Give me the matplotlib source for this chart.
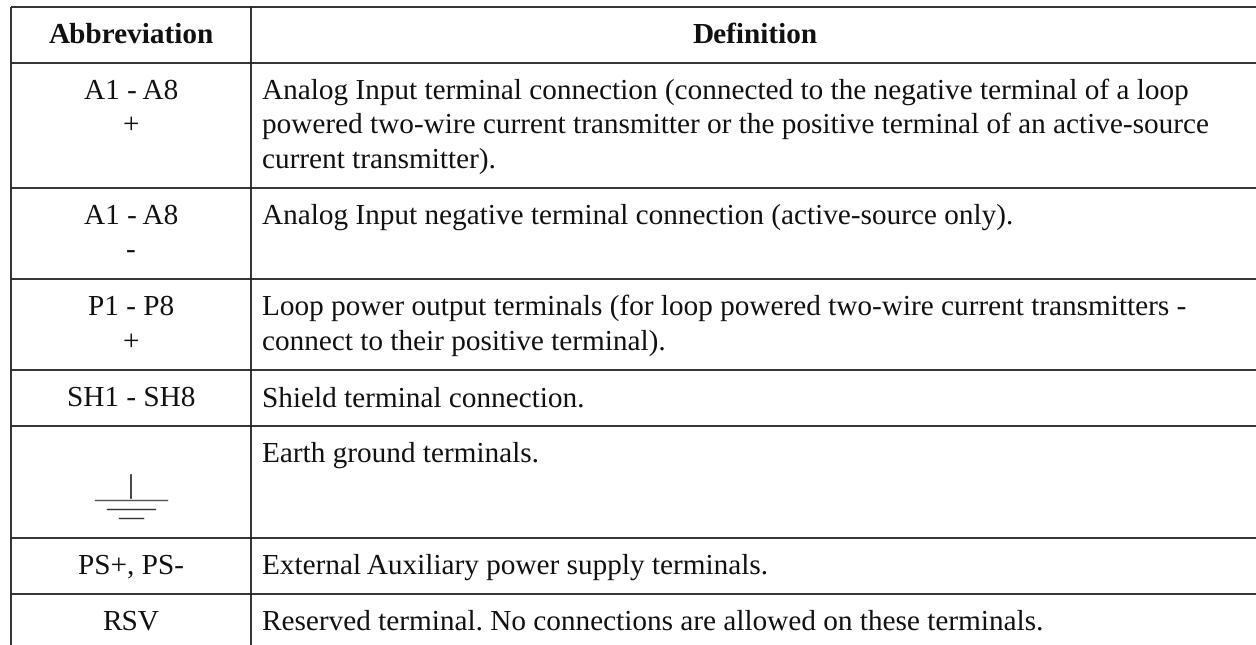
import matplotlib.pyplot as plt

plt.rcParams['font.family'] = 'Liberation Serif'
plt.rcParams['text.hinting'] = 'no_hinting'
plt.rcParams['text.hinting_factor'] = 8

header = ['Abbreviation', 'Definition']
abbrev = ['A1 - A8\n+', 'A1 - A8\n-', 'P1 - P8\n+', 'SH1 - SH8', '', 'PS+, PS-', 'RSV']
definitions = [
    ['Analog Input terminal connection (connected to the negative terminal of a loop',
     'powered two-wire current transmitter or the positive terminal of an active-source',
     'current transmitter).'],
    ['Analog Input negative terminal connection (active-source only).'],
    ['Loop power output terminals (for loop powered two-wire current transmitters -',
     'connect to their positive terminal).'],
    ['Shield terminal connection.'],
    ['Earth ground terminals.'],
    ['External Auxiliary power supply terminals.'],
    ['Reserved terminal. No connections are allowed on these terminals.'],
]
row_lines = [7, 62.5, 188, 278.7, 370, 425.5, 537.7, 593.7]

W, H = 1256, 645
fig = plt.figure(figsize=(W / 100, H / 100), dpi=100)
ax = fig.add_axes([0, 0, 1, 1])
ax.set_xlim(0, W)
ax.set_ylim(H, 0)
ax.axis('off')

lc = '#222222'
tc = '#111111'
fs = 21.05
line_h = 34.5

# grid
for y in row_lines:
    ax.plot([11, W], [y, y], color=lc, lw=1.3, solid_capstyle='butt')
ax.plot([11, 11], [7, H], color=lc, lw=1.3, solid_capstyle='butt')
ax.plot([251, 251], [7, H], color=lc, lw=1.3, solid_capstyle='butt')

# header
ax.text(131, 42.5, header[0], ha='center', va='baseline', fontsize=fs, fontweight='bold', color=tc)
ax.text(755, 42.5, header[1], ha='center', va='baseline', fontsize=fs, fontweight='bold', color=tc)

# rows
for i in range(len(abbrev)):
    base = row_lines[i + 1] + 36.2
    if abbrev[i]:
        for j, s in enumerate(abbrev[i].split('\n')):
            ax.text(131, base + j * line_h, s, ha='center', va='baseline', fontsize=fs, color=tc)
    for j, s in enumerate(definitions[i]):
        ax.text(262, base + j * line_h, s, ha='left', va='baseline', fontsize=fs, color=tc)

# earth ground symbol
ax.plot([131, 131], [475, 498], color='#222222', lw=1.2)
ax.plot([95, 167], [499.5, 499.5], color='#555555', lw=1)
ax.plot([107, 155], [508.5, 508.5], color='#333333', lw=1)
ax.plot([119, 143], [517.5, 517.5], color='#333333', lw=1)

fig.savefig('out.png', dpi=100)
